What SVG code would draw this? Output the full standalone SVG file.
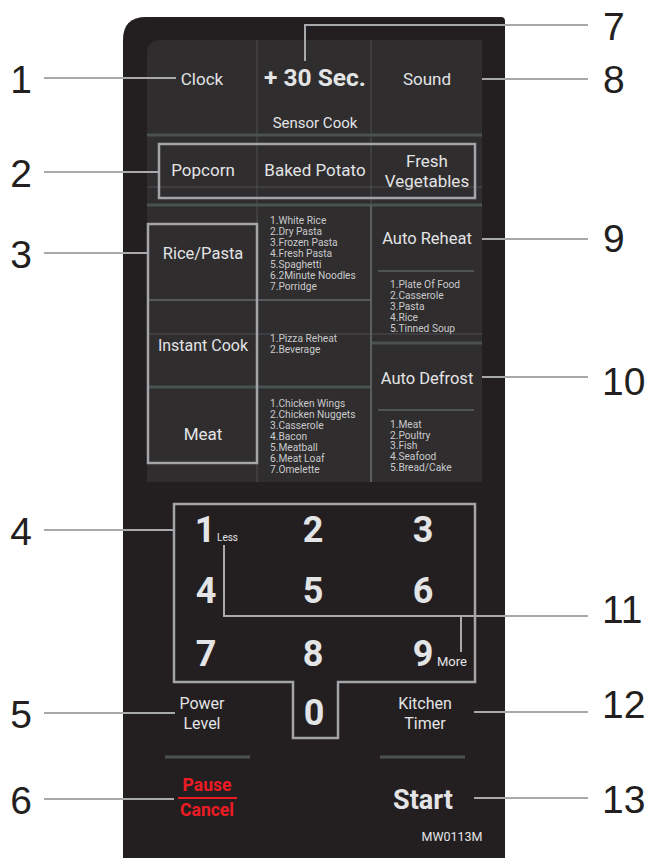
<svg xmlns="http://www.w3.org/2000/svg" width="647" height="858" viewBox="0 0 647 858">
<style>
.num{font-family:"Liberation Sans",Arial,sans-serif;font-size:39px;fill:#231f20}
.lbl{font-family:Roboto,"Noto Sans",sans-serif;fill:#e3e4e6;text-anchor:middle}
.sub{font-family:Roboto,"Noto Sans",sans-serif;fill:#e3e4e6;text-anchor:start}
.lst{font-family:Roboto,"Noto Sans",sans-serif;font-size:10.2px;fill:#c9cacc}
.key{font-family:Roboto,"Noto Sans",sans-serif;font-weight:bold;font-size:36px;fill:#e3e4e6;text-anchor:middle}
.red{font-family:Roboto,"Noto Sans",sans-serif;font-weight:bold;font-size:17.5px;fill:#ed1c24;text-anchor:middle}
.sep{stroke:#4a5352;stroke-width:3;fill:none}
.thin{stroke:#4e4e50;stroke-width:1;fill:none}
.box{stroke:#a3a5a8;stroke-width:2.5;fill:none}
.call{stroke:#a7a9ac;stroke-width:2;fill:none}
</style>
<rect width="647" height="858" fill="#ffffff"/>
<g id="panel">
<path d="M123,858 V40 Q123,17 146,17 H501 Q505,17 505,21 V858 Z" fill="#231f20"/>
<path d="M147,482 V54 Q147,40 161,40 H482 V482 Z" fill="#2f2d2e"/>
<line class="thin" x1="257" y1="40" x2="257" y2="205"/>
<line class="thin" x1="371" y1="40" x2="371" y2="205"/>
<line class="thin" x1="147" y1="187" x2="482" y2="187"/>
<line class="sep" x1="147" y1="135" x2="482" y2="135"/>
<line class="sep" x1="147" y1="205" x2="482" y2="205"/>
<line class="thin" x1="257" y1="205" x2="257" y2="482"/>
<line class="thin" x1="147" y1="334" x2="482" y2="334"/>
<line stroke="#55595a" stroke-width="2" x1="147" y1="300" x2="371" y2="300"/>
<line class="sep" x1="147" y1="387" x2="371" y2="387"/>
<line stroke="#5a6062" stroke-width="2" x1="371" y1="205" x2="371" y2="482"/>
<line class="sep" x1="372" y1="343" x2="482" y2="343"/>
<line stroke="#5a6062" stroke-width="1.5" x1="378" y1="271" x2="474" y2="271"/>
<line stroke="#5a6062" stroke-width="1.5" x1="378" y1="410" x2="474" y2="410"/>
<line class="sep" x1="165" y1="757" x2="250" y2="757"/>
<line class="sep" x1="380" y1="757" x2="465" y2="757"/>
</g>
<g id="top-row">
<text class="lbl" x="202" y="85" font-size="17">Clock</text>
<text class="lbl" x="315" y="86" font-size="24.5" font-weight="bold">+ 30 Sec.</text>
<text class="lbl" x="427" y="85" font-size="17">Sound</text>
<text class="lbl" x="315" y="128" font-size="15">Sensor Cook</text>
</g>
<g id="sensor-row">
<rect class="box" x="159" y="144" width="316" height="54"/>
<text class="lbl" x="203" y="176" font-size="17">Popcorn</text>
<text class="lbl" x="315" y="176" font-size="17">Baked Potato</text>
<text class="lbl" x="427" y="167" font-size="17">Fresh</text>
<text class="lbl" x="427" y="187" font-size="17">Vegetables</text>
</g>
<g id="cook-column">
<rect class="box" x="148" y="224" width="109" height="239"/>
<text class="lbl" x="203" y="259" font-size="16.5">Rice/Pasta</text>
<text class="lbl" x="203" y="351" font-size="16">Instant Cook</text>
<text class="lbl" x="203" y="440" font-size="17">Meat</text>
</g>
<g id="lists">
<text class="lst"><tspan x="270" y="224">1.White Rice</tspan><tspan x="270" y="235">2.Dry Pasta</tspan><tspan x="270" y="246">3.Frozen Pasta</tspan><tspan x="270" y="256.5">4.Fresh Pasta</tspan><tspan x="270" y="267.5">5.Spaghetti</tspan><tspan x="270" y="279">6.2Minute Noodles</tspan><tspan x="270" y="290">7.Porridge</tspan></text>
<text class="lst"><tspan x="270" y="342">1.Pizza Reheat</tspan><tspan x="270" y="353">2.Beverage</tspan></text>
<text class="lst"><tspan x="270" y="407">1.Chicken Wings</tspan><tspan x="270" y="418">2.Chicken Nuggets</tspan><tspan x="270" y="429">3.Casserole</tspan><tspan x="270" y="440">4.Bacon</tspan><tspan x="270" y="451">5.Meatball</tspan><tspan x="270" y="462">6.Meat Loaf</tspan><tspan x="270" y="473">7.Omelette</tspan></text>
</g>
<g id="auto-reheat">
<text class="lbl" x="427" y="244" font-size="16.5">Auto Reheat</text>
<text class="lst"><tspan x="390" y="288">1.Plate Of Food</tspan><tspan x="390" y="299">2.Casserole</tspan><tspan x="390" y="310">3.Pasta</tspan><tspan x="390" y="321">4.Rice</tspan><tspan x="390" y="332">5.Tinned Soup</tspan></text>
</g>
<g id="auto-defrost">
<text class="lbl" x="427" y="384" font-size="16.5">Auto Defrost</text>
<text class="lst"><tspan x="390" y="428">1.Meat</tspan><tspan x="390" y="438.5">2.Poultry</tspan><tspan x="390" y="449">3.Fish</tspan><tspan x="390" y="460">4.Seafood</tspan><tspan x="390" y="471">5.Bread/Cake</tspan></text>
</g>
<g id="keypad">
<path class="box" d="M174,504 H475 V682 H338 V738 H293 V682 H174 Z"/>
<text class="key" x="205" y="542">1</text>
<text class="key" x="313" y="542">2</text>
<text class="key" x="423" y="542">3</text>
<text class="key" x="206" y="603">4</text>
<text class="key" x="313" y="603">5</text>
<text class="key" x="423" y="603">6</text>
<text class="key" x="206" y="666">7</text>
<text class="key" x="313" y="666">8</text>
<text class="key" x="423" y="666">9</text>
<text class="key" x="314" y="725">0</text>
<text class="sub" x="217" y="541" font-size="10">Less</text>
<text class="sub" x="437" y="666" font-size="13">More</text>
</g>
<g id="power-level">
<text class="lbl" x="202" y="709" font-size="16">Power</text>
<text class="lbl" x="202" y="729" font-size="16">Level</text>
</g>
<g id="kitchen-timer">
<text class="lbl" x="425" y="709" font-size="16">Kitchen</text>
<text class="lbl" x="425" y="729" font-size="16">Timer</text>
</g>
<g id="pause-cancel">
<text class="red" x="207" y="791">Pause</text>
<line stroke="#ed1c24" stroke-width="2" x1="178" y1="798" x2="237" y2="798"/>
<text class="red" x="207" y="816">Cancel</text>
</g>
<g id="start">
<text class="lbl" x="423" y="809" font-size="27" font-weight="bold">Start</text>
</g>
<g id="model">
<text class="lbl" x="452" y="841" font-size="12.5">MW0113M</text>
</g>
<g id="connectors">
<line class="call" x1="44" y1="78" x2="176" y2="78"/>
<line class="call" x1="44" y1="172" x2="159" y2="172"/>
<line class="call" x1="44" y1="253" x2="148" y2="253"/>
<line class="call" x1="44" y1="530" x2="174" y2="530"/>
<line class="call" x1="44" y1="713" x2="175" y2="713"/>
<line class="call" x1="44" y1="799" x2="174" y2="799"/>
<polyline class="call" points="588,25 305,25 305,61"/>
<line class="call" x1="588" y1="79" x2="482" y2="79"/>
<line class="call" x1="588" y1="239" x2="482" y2="239"/>
<line class="call" x1="588" y1="377" x2="482" y2="377"/>
<polyline class="call" points="588,616 224,616 224,545"/>
<line class="call" x1="461" y1="616" x2="461" y2="652"/>
<line class="call" x1="588" y1="712" x2="474" y2="712"/>
<line class="call" x1="588" y1="798" x2="474" y2="798"/>
</g>
<g id="numbers">
<text class="num" x="21" y="93" text-anchor="middle">1</text>
<text class="num" x="21" y="187" text-anchor="middle">2</text>
<text class="num" x="21" y="268" text-anchor="middle">3</text>
<text class="num" x="21" y="545" text-anchor="middle">4</text>
<text class="num" x="21" y="728" text-anchor="middle">5</text>
<text class="num" x="21" y="814" text-anchor="middle">6</text>
<text class="num" x="603" y="40">7</text>
<text class="num" x="603" y="93">8</text>
<text class="num" x="603" y="252">9</text>
<text class="num" x="602" y="395">10</text>
<text class="num" x="602" y="623">11</text>
<text class="num" x="602" y="718">12</text>
<text class="num" x="602" y="813">13</text>
</g>
</svg>
